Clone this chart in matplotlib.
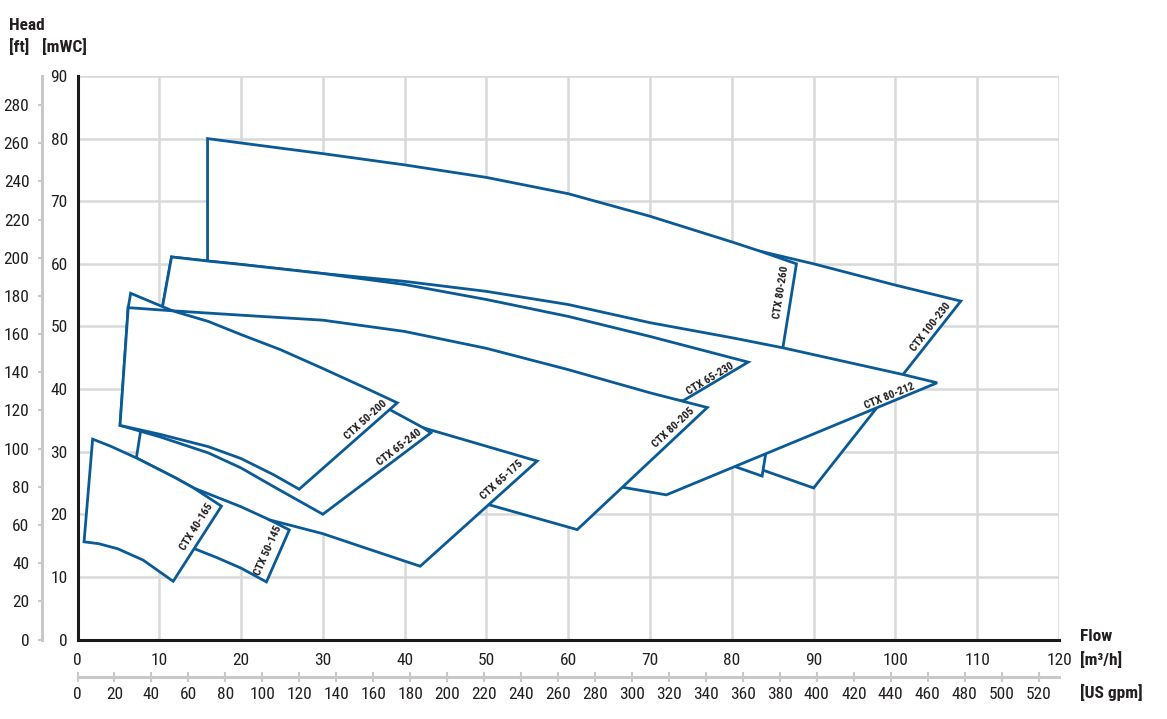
import os
import glob
import matplotlib
matplotlib.use('Agg')
import matplotlib.pyplot as plt
from matplotlib.patches import Polygon
from matplotlib import font_manager
from matplotlib.font_manager import FontProperties

# ---------------- data (flow Q in m3/h, head H in mWC) ----------------
# each envelope: top curve (left->right), right edge, bottom curve (right->left)
ctx_100_230_q = [16.5, 40, 60, 75, 83.5, 90, 100, 108, 90, 83.9, 80, 70, 50, 30, 17]
ctx_100_230_h = [61.5, 63.0, 63.5, 63.3, 62.0, 60.0, 56.6, 54.05, 24.2, 27.0, 28.9, 34, 45, 55, 60]

ctx_80_260_q = [15.9, 20, 30, 40, 50, 60, 70, 80, 83.5, 87.9, 83.7, 80.2, 70, 50, 30, 15.9]
ctx_80_260_h = [80.0, 79.3, 77.6, 75.8, 73.8, 71.2, 67.6, 63.5, 62.0, 60.0, 26.1, 27.7, 32, 42, 52, 58.5]

ctx_80_212_q = [11.5, 15.9, 20, 30, 40, 50, 60, 70, 80, 86.2, 101, 105.1, 72, 66.5, 60, 40, 20, 9.4]
ctx_80_212_h = [61.1, 60.45, 59.9, 58.45, 57.2, 55.6, 53.5, 50.6, 48.2, 46.6, 42.3, 41.0, 23.1, 24.35, 26.5, 33.5, 41.0, 46.0]

ctx_65_230_q = [11.5, 15.9, 20, 30, 40, 50, 60, 70, 82.0, 74.0, 60, 40, 20, 10.23]
ctx_65_230_h = [61.1, 60.45, 59.9, 58.45, 56.7, 54.3, 51.6, 48.4, 44.3, 38.1, 41.0, 46.0, 50.3, 52.0]

ctx_80_205_q = [6.2, 11.6, 20, 30, 40, 50, 60, 70, 77.0, 61.1, 50.1, 40, 30, 20, 6.0]
ctx_80_205_h = [53.0, 52.5, 51.8, 51.0, 49.2, 46.5, 43.1, 39.4, 37.05, 17.55, 21.6, 25.0, 28.0, 31.0, 35.0]

ctx_50_145_q = [14.0, 20, 23.5, 25.9, 23.1, 20, 17, 14.3, 13.8]
ctx_50_145_h = [25.0, 22.0, 19.1, 17.5, 9.2, 11.4, 13.1, 14.5, 14.8]

ctx_65_175_q = [7.8, 15, 25, 33, 38, 42.3, 56.2, 41.9, 35, 30, 23.5, 20, 14.2, 12.0, 7.2]
ctx_65_175_h = [34.0, 35.5, 35.8, 35.3, 34.6, 33.8, 28.5, 11.7, 14.7, 16.9, 19.1, 21.2, 24.2, 25.8, 29.0]

ctx_65_240_q = [6.5, 11.6, 16, 20, 24.8, 29.8, 35, 38.2, 42.3, 43.2, 30.0, 27, 24, 20, 16, 10, 5.2, 6.2]
ctx_65_240_h = [55.3, 52.5, 50.4, 48.3, 45.9, 43.0, 39.8, 36.7, 33.8, 33.0, 20.0, 22.2, 24.4, 27.4, 29.8, 32.4, 34.2, 53.0]

ctx_50_200_q = [6.2, 11.6, 16, 20, 24.8, 29.8, 35, 39.1, 27.1, 24, 20, 16, 10, 5.2]
ctx_50_200_h = [53.0, 52.5, 50.8, 48.7, 46.3, 43.4, 40.3, 37.8, 24.0, 26.3, 28.9, 30.8, 32.8, 34.2]

ctx_40_165_q = [1.85, 4.0, 7.2, 12.0, 14.2, 17.6, 11.7, 8.0, 4.9, 2.6, 0.8]
ctx_40_165_h = [32.0, 30.9, 29.0, 25.8, 24.2, 21.3, 9.3, 12.7, 14.5, 15.3, 15.6]

# drawing order: back to front
pump_names = ['CTX 100-230', 'CTX 80-260', 'CTX 80-212', 'CTX 65-230', 'CTX 80-205',
              'CTX 50-145', 'CTX 65-175', 'CTX 65-240', 'CTX 50-200', 'CTX 40-165']
pump_q = [ctx_100_230_q, ctx_80_260_q, ctx_80_212_q, ctx_65_230_q, ctx_80_205_q,
          ctx_50_145_q, ctx_65_175_q, ctx_65_240_q, ctx_50_200_q, ctx_40_165_q]
pump_h = [ctx_100_230_h, ctx_80_260_h, ctx_80_212_h, ctx_65_230_h, ctx_80_205_h,
          ctx_50_145_h, ctx_65_175_h, ctx_65_240_h, ctx_50_200_h, ctx_40_165_h]

# label anchor (Q, H) and angle on screen
label_q = [104.3, 86.0, 99.3, 77.4, 72.9, 23.3, 51.9, 39.4, 35.3, 14.55]
label_h = [49.85, 55.4, 38.9, 41.7, 33.8, 14.2, 25.5, 30.6, 35.0, 18.0]
label_angle = [52, 81, 22.5, 31, 43, 66, 42, 37.5, 42, 58]

flow_ticks = list(range(0, 121, 10))
head_ticks = list(range(0, 91, 10))
ft_ticks = list(range(0, 281, 20))
gpm_ticks = list(range(0, 521, 20))
M_TO_FT = 3.28084
M3H_TO_GPM = 4.425

# ---------------- fonts ----------------
def find_font(names):
    paths = [f.fname for f in font_manager.fontManager.ttflist]
    for d in ['/usr/share/fonts', '/usr/local/share/fonts', os.path.expanduser('~/.fonts')]:
        paths += glob.glob(os.path.join(d, '**', '*.ttf'), recursive=True)
        paths += glob.glob(os.path.join(d, '**', '*.otf'), recursive=True)
    byname = {}
    for p in paths:
        byname.setdefault(os.path.basename(p), p)
    for n in names:
        if n in byname:
            return byname[n]
    return None

REG = find_font(['LiberationSansNarrow-Regular.ttf', 'NotoSans-Condensed.ttf',
                 'RobotoCondensed-Regular.ttf', 'OpenSans-CondensedRegular.ttf',
                 'OpenSans_Condensed-Regular.ttf'])
BOLD = find_font(['LiberationSansNarrow-Bold.ttf', 'NotoSans-CondensedBold.ttf',
                  'RobotoCondensed-Bold.ttf', 'OpenSans-CondensedBold.ttf',
                  'OpenSans_Condensed-Bold.ttf'])
CONDENSED = REG is not None and BOLD is not None
if CONDENSED:
    TSIZE, LSIZE = 12.5, 8
else:
    TSIZE, LSIZE = 11.5, 6.8


def fp(bold=False, size=TSIZE):
    if CONDENSED:
        return FontProperties(fname=BOLD if bold else REG, size=size)
    return FontProperties(family=['Liberation Sans', 'DejaVu Sans'],
                          weight='bold' if bold else 'normal', size=size)


BLUE = '#0a5a96'
GRID = '#d9d9d9'
AXGRAY = '#c8c8c8'
TXT = '#231f20'

W, H = 1167, 719
fig = plt.figure(figsize=(W / 100, H / 100), dpi=100)
x0, x1, y0, y1 = 77.5, 1059, 639.5, 76
ax = fig.add_axes([x0 / W, 1 - y0 / H, (x1 - x0) / W, (y0 - y1) / H])
ax.set_xlim(0, 120)
ax.set_ylim(0, 90)

for v in flow_ticks[1:]:
    ax.axvline(v, color=GRID, lw=1.8, zorder=0)
for v in head_ticks[1:]:
    ax.axhline(v, color=GRID, lw=1.8, zorder=0)

for sp in ['top', 'right']:
    ax.spines[sp].set_visible(False)
for sp in ['left', 'bottom']:
    ax.spines[sp].set_linewidth(2.2)
    ax.spines[sp].set_color('#1a1a1a')
    ax.spines[sp].set_zorder(5)

ax.set_xticks(flow_ticks, [str(v) for v in flow_ticks], fontproperties=fp())
ax.set_yticks(head_ticks, [str(v) for v in head_ticks], fontproperties=fp())
ax.tick_params(length=0, labelcolor=TXT)
ax.tick_params(axis='x', pad=10)
ax.tick_params(axis='y', pad=7)

for i, (q, h) in enumerate(zip(pump_q, pump_h)):
    poly = Polygon(list(zip(q, h)), closed=True, facecolor='white', edgecolor=BLUE,
                   lw=2.0, joinstyle='miter', zorder=2 + i * 0.1)
    ax.add_patch(poly)

for name, q, h, a in zip(pump_names, label_q, label_h, label_angle):
    ax.text(q, h, name, rotation=a, rotation_mode='anchor', ha='center', va='center',
            fontproperties=fp(True, LSIZE), color=TXT, zorder=10)

# secondary head axis in feet
secy = ax.secondary_yaxis(-35.5 / (x1 - x0), functions=(lambda m: m * M_TO_FT, lambda f: f / M_TO_FT))
secy.set_yticks(ft_ticks, [str(v) for v in ft_ticks], fontproperties=fp())
for sp in secy.spines.values():
    sp.set_color(AXGRAY)
    sp.set_linewidth(2.2)
secy.tick_params(length=3, width=1.5, color=AXGRAY, pad=6, labelcolor=TXT)

# secondary flow axis in US gpm
secx = ax.secondary_xaxis(-(676.5 - y0) / (y0 - y1), functions=(lambda q: q * M3H_TO_GPM, lambda g: g / M3H_TO_GPM))
secx.set_xticks(gpm_ticks, [str(v) for v in gpm_ticks], fontproperties=fp())
for sp in secx.spines.values():
    sp.set_color(AXGRAY)
    sp.set_linewidth(2.2)
secx.tick_params(direction='inout', length=7, width=1.5, color=AXGRAY, pad=4, labelcolor=TXT)

kw = dict(fontproperties=fp(True), color=TXT, va='center', ha='left')
fig.text(9 / W, 1 - 26 / H, 'Head', **kw)
fig.text(9 / W, 1 - 47 / H, '[ft]', **kw)
fig.text(42.5 / W, 1 - 47 / H, '[mWC]', **kw)
fig.text(1080 / W, 1 - 636.7 / H, 'Flow', **kw)
fig.text(1080 / W, 1 - 660 / H, '[m³/h]', **kw)
fig.text(1080 / W, 1 - 692.7 / H, '[US gpm]', **kw)

fig.savefig('out.png', dpi=100, facecolor='white')
